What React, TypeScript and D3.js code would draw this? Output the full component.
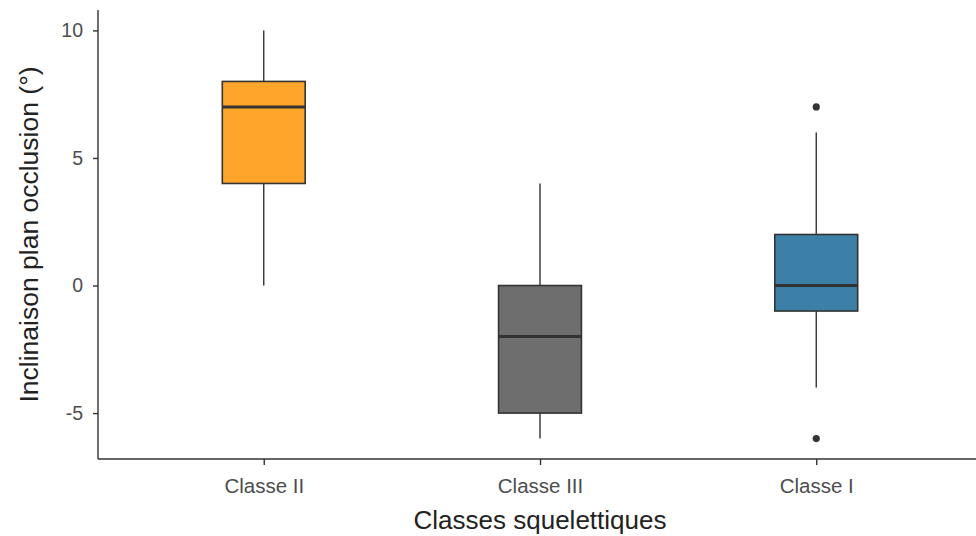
import React, { useEffect, useRef } from "react";
import * as d3 from "d3";

// data
const classes = ["Classe II", "Classe III", "Classe I"];
const lowerWhisker = [0, -6, -4];
const q1 = [4, -5, -1];
const median = [7, -2, 0];
const q3 = [8, 0, 2];
const upperWhisker = [10, 4, 6];
const outliers: number[][] = [[], [], [7, -6]];
const fills = ["#ffa52a", "#6e6e6e", "#3d80a7"];
const yTicks = [-5, 0, 5, 10];

const W = 976;
const H = 536;
const FONT = "'Liberation Sans', Arial, sans-serif";

const App = () => {
  const svgRef = useRef<SVGSVGElement | null>(null);

  useEffect(() => {
    const svg = d3.select(svgRef.current);
    svg.selectAll("*").remove();

    const left = 98;
    const right = 982; // panel runs a bit past the picture edge
    const top = 10;
    const bottom = 459;

    const x = d3.scalePoint<string>().domain(classes).range([left, right]).padding(0.6);
    const y = d3.scaleLinear().domain([-6.8, 10.8]).range([bottom, top]);
    const boxW = x.step() * 0.3;
    const ink = "#333333";

    const g = svg.append("g");

    classes.forEach((c, i) => {
      const cx = x(c)!;
      // whiskers
      g.append("line")
        .attr("x1", cx).attr("x2", cx)
        .attr("y1", y(q3[i])).attr("y2", y(upperWhisker[i]))
        .attr("stroke", ink).attr("stroke-width", 1.4);
      g.append("line")
        .attr("x1", cx).attr("x2", cx)
        .attr("y1", y(q1[i])).attr("y2", y(lowerWhisker[i]))
        .attr("stroke", ink).attr("stroke-width", 1.4);
      // box
      g.append("rect")
        .attr("x", cx - boxW / 2)
        .attr("y", y(q3[i]))
        .attr("width", boxW)
        .attr("height", y(q1[i]) - y(q3[i]))
        .attr("fill", fills[i])
        .attr("stroke", ink)
        .attr("stroke-width", 1.6);
      // median
      g.append("line")
        .attr("x1", cx - boxW / 2).attr("x2", cx + boxW / 2)
        .attr("y1", y(median[i])).attr("y2", y(median[i]))
        .attr("stroke", ink).attr("stroke-width", 3);
      // outliers
      outliers[i].forEach((v) => {
        g.append("circle").attr("cx", cx).attr("cy", y(v)).attr("r", 3.6).attr("fill", ink);
      });
    });

    // axes
    const yAxis = svg.append("g")
      .attr("transform", `translate(${left},0)`)
      .call(d3.axisLeft(y).tickValues(yTicks).tickSize(5).tickPadding(10).tickFormat((d) => String(d)));
    yAxis.select(".domain").attr("stroke", ink).attr("stroke-width", 1.4).attr("d", `M0,${top}V${bottom}`);
    yAxis.selectAll(".tick line").attr("stroke", ink).attr("stroke-width", 1.4);
    yAxis.selectAll(".tick text")
      .attr("fill", "#4d4d4d")
      .style("font-family", FONT)
      .style("font-size", "19.5px");

    const xAxis = svg.append("g")
      .attr("transform", `translate(0,${bottom})`)
      .call(d3.axisBottom(x).tickSize(6).tickPadding(13));
    xAxis.select(".domain").attr("stroke", ink).attr("stroke-width", 1.4).attr("d", `M${left},0H${right}`);
    xAxis.selectAll(".tick line").attr("stroke", ink).attr("stroke-width", 1.4);
    xAxis.selectAll(".tick text")
      .attr("fill", "#4d4d4d")
      .style("font-family", FONT)
      .style("font-size", "20.5px");

    // titles
    svg.append("text")
      .attr("x", x("Classe III")!)
      .attr("y", 529)
      .attr("text-anchor", "middle")
      .attr("fill", "#222")
      .style("font-family", FONT)
      .style("font-size", "26px")
      .text("Classes squelettiques");

    svg.append("text")
      .attr("transform", `translate(38,${(top + bottom) / 2}) rotate(-90)`)
      .attr("text-anchor", "middle")
      .attr("fill", "#222")
      .style("font-family", FONT)
      .style("font-size", "26.5px")
      .text("Inclinaison plan occlusion (°)");
  }, []);

  return (
    <svg
      ref={svgRef}
      width={W}
      height={H}
      style={{ position: "absolute", left: 0, top: 0, background: "#fff" }}
    ></svg>
  );
};

export default App;
